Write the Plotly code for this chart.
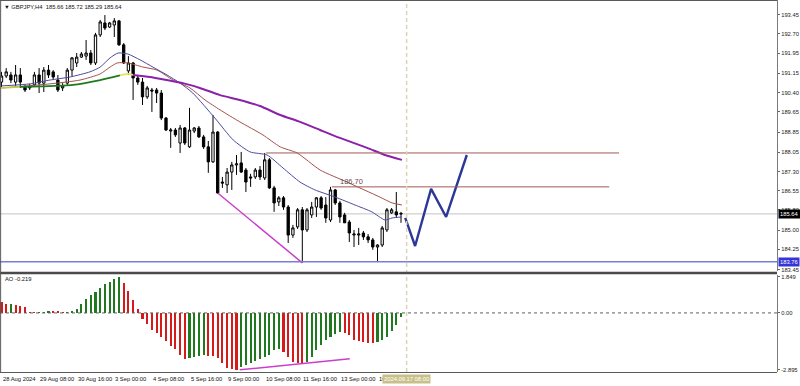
import plotly.graph_objects as go

# ---------------- data ----------------
bars = list(range(86))
opens = [190.81, 191.05, 191.09, 190.81, 191.09, 190.62, 190.58, 190.70, 191.09, 190.77,
         191.28, 191.21, 190.89, 190.58, 190.77, 191.28, 191.56, 191.79, 191.83, 191.95,
         191.56, 192.66, 193.13, 192.97, 193.05, 193.21, 192.27, 191.25, 191.56, 190.97,
         190.81, 190.23, 190.50, 190.50, 190.38, 189.40, 188.89, 188.93, 188.42, 189.01,
         188.27, 188.89, 189.01, 188.66, 188.27, 187.68, 188.85, 186.89, 186.78, 187.28,
         187.56, 187.64, 187.36, 187.09, 187.09, 187.36, 187.05, 187.76, 186.66, 186.11,
         186.27, 185.91, 184.81, 185.13, 185.80, 185.01, 185.60, 185.91, 186.27, 185.99,
         185.40, 186.58, 186.07, 185.60, 185.32, 184.81, 184.81, 184.89, 184.74, 184.62,
         184.34, 184.42, 185.01, 185.68, 185.72, 185.66]
highs = [191.21, 191.36, 191.21, 191.48, 191.36, 190.70, 190.74, 191.21, 191.36, 191.40,
         191.48, 191.28, 191.09, 190.77, 191.36, 191.79, 191.95, 191.99, 192.46, 192.07,
         192.74, 193.25, 193.44, 193.17, 193.32, 193.25, 192.34, 191.83, 191.60, 191.05,
         190.97, 190.66, 190.58, 190.58, 190.50, 189.44, 189.01, 189.01, 189.13, 189.05,
         189.80, 189.05, 189.09, 188.74, 188.50, 189.52, 188.89, 187.09, 187.44, 187.68,
         187.95, 188.07, 187.44, 187.21, 187.44, 187.52, 188.03, 187.83, 186.74, 186.34,
         186.34, 185.99, 185.21, 185.87, 185.91, 185.87, 186.11, 186.30, 186.34, 186.30,
         186.70, 186.62, 186.15, 185.68, 185.40, 185.01, 185.09, 184.97, 184.85, 184.70,
         184.45, 185.17, 185.87, 185.87, 186.50, 185.72]
lows = [190.62, 190.97, 190.77, 190.66, 190.58, 190.42, 190.50, 190.62, 190.38, 190.42,
        190.97, 190.89, 190.42, 190.46, 190.70, 191.05, 191.40, 191.76, 191.68, 191.48,
        191.48, 192.58, 192.85, 192.93, 192.58, 192.23, 191.52, 191.09, 190.11, 190.70,
        189.91, 190.15, 189.64, 189.99, 189.32, 188.89, 188.23, 188.66, 188.03, 188.34,
        188.23, 188.81, 188.62, 188.19, 187.25, 187.64, 186.42, 186.66, 186.46, 186.58,
        187.17, 187.25, 186.50, 186.70, 187.01, 186.97, 186.97, 186.62, 185.72, 185.95,
        185.80, 184.50, 184.70, 185.05, 183.72, 184.93, 185.48, 185.52, 185.80, 185.29,
        185.32, 185.99, 185.29, 185.29, 184.54, 184.34, 184.42, 184.62, 184.50, 184.23,
        183.76, 184.34, 184.93, 185.64, 185.48, 185.29]
closes = [191.05, 191.21, 190.89, 191.09, 190.81, 190.50, 190.62, 191.09, 190.77, 191.28,
          191.09, 191.01, 190.50, 190.66, 191.28, 191.76, 191.79, 191.91, 191.95, 191.56,
          192.66, 193.17, 192.93, 193.13, 193.21, 192.27, 191.56, 191.56, 190.97, 190.81,
          190.23, 190.58, 190.46, 190.38, 189.40, 188.93, 188.93, 188.74, 189.01, 188.42,
          188.93, 189.01, 188.66, 188.27, 187.68, 188.85, 186.46, 186.85, 187.28, 187.56,
          187.60, 187.28, 186.89, 187.05, 187.36, 187.09, 187.76, 186.66, 186.07, 186.27,
          185.91, 184.81, 185.09, 185.80, 185.01, 185.80, 185.91, 186.27, 185.87, 185.48,
          186.58, 186.07, 185.52, 185.29, 184.89, 184.85, 184.85, 184.74, 184.62, 184.34,
          184.42, 185.09, 185.80, 185.80, 185.60, 185.64]

ao = [0.56, 0.43, 0.46, 0.38, 0.34, 0.31, 0.06, 0.04, 0.05, 0.07,
      0.12, 0.09, 0.08, 0.05, 0.07, 0.12, 0.20, 0.43, 0.72, 0.89,
      1.06, 1.28, 1.45, 1.57, 1.74, 1.849, 1.50, 1.11, 0.65, 0.20,
      -0.31, -0.55, -0.85, -1.03, -1.20, -1.45, -1.68, -1.85, -2.14, -2.36,
      -2.31, -2.26, -2.19, -2.14, -2.17, -2.20, -2.31, -2.56, -2.82, -2.87,
      -2.895, -2.77, -2.65, -2.56, -2.43, -2.36, -2.26, -2.14, -1.88, -1.85,
      -1.97, -2.22, -2.48, -2.52, -2.53, -2.48, -2.22, -1.88, -1.62, -1.37,
      -1.20, -1.06, -0.99, -1.03, -1.11, -1.37, -1.45, -1.50, -1.53, -1.54,
      -1.50, -1.37, -1.20, -0.94, -0.60, -0.219]

ma_fast_idx = [0, 6.1, 10.3, 14.6, 18.8, 21, 23.1, 24.8, 26.9, 29.5, 32.2, 35.2, 38, 40.7,
               45.4, 49.3, 52.9, 56.5, 59.9, 63.5, 66.7, 71, 75.2, 78.8, 81.6, 83.1, 85.2]
ma_fast_val = [190.66, 190.74, 190.89, 191.01, 191.21, 191.40, 191.76, 191.95, 191.91, 191.68,
               191.40, 191.09, 190.77, 190.38, 189.40, 188.54, 188.07, 187.95, 187.44, 186.89,
               186.58, 186.30, 185.99, 185.72, 185.40, 185.48, 185.52]
ma_mid_idx = [0, 10.3, 16.7, 21, 23.1, 24.6, 26.9, 30.1, 33.1, 36.5, 40.1, 43.3, 46.5,
              50.7, 55.6, 59.3, 62.9, 67.8, 73.5, 80.5, 83.1, 85.2]
ma_mid_val = [190.58, 190.74, 190.89, 191.13, 191.40, 191.56, 191.56, 191.40, 191.28, 190.89,
              190.58, 190.11, 189.72, 189.25, 188.74, 188.27, 188.03, 187.36, 186.89, 186.30,
              186.07, 185.99]
ma_slow_idx = [0, 3.9, 8.2, 15.2, 21, 25.2, 26.9, 28, 31.6, 35.2, 38.6, 42.2, 46.5, 50.7,
               55, 59.3, 63.5, 67.8, 72, 77.8, 81.6, 85.2]
ma_slow_val = [190.58, 190.62, 190.64, 190.70, 190.89, 191.07, 191.13, 191.09, 191.01, 190.89,
               190.77, 190.58, 190.30, 190.11, 189.87, 189.52, 189.25, 188.93, 188.62, 188.23,
               187.95, 187.76]

forecast_idx = [85.9, 88, 91.4, 94.6, 99]
forecast_val = [185.48, 184.38, 186.62, 185.52, 187.95]

price_div_idx = [46, 64]
price_div_val = [186.46, 183.72]
ao_div_idx = [50.7, 74.1]
ao_div_val = [-2.89, -2.33]

level_hi = 188.03
level_hi_span = [56.3, 131.4]
level_mid = 186.70
level_mid_span = [70.3, 129.3]
level_bid = 185.64
level_low = 183.76
vline_idx = 86.2

price_ticks = [193.45, 192.70, 191.95, 191.15, 190.40, 189.65, 188.85, 188.05, 187.30,
               186.55, 185.80, 185.00, 184.25, 183.45]
ao_ticks = [1.849, 0.0, -2.895]
ao_tick_text = ["1.849", "0.00", "-2.895"]
date_idx = [0, 8, 16, 24, 32, 40, 48, 56, 64, 72, 80]
date_text = ["28 Aug 2024", "29 Aug 08:00", "30 Aug 16:00", "3 Sep 00:00", "4 Sep 08:00",
             "5 Sep 16:00", "9 Sep 00:00", "10 Sep 08:00", "11 Sep 16:00", "13 Sep 00:00",
             "16 Sep 08:00"]

# ---------------- figure ----------------
W, H = 800, 386
XR = 0.97125
FONT = "Liberation Sans"
fs = 5.8

def py(px):
    return 1 - px / H

fig = go.Figure()

fig.add_trace(go.Candlestick(
    x=bars, open=opens, high=highs, low=lows, close=closes,
    increasing=dict(line=dict(color="black", width=1), fillcolor="white"),
    decreasing=dict(line=dict(color="black", width=1), fillcolor="black"),
    whiskerwidth=0, showlegend=False, hoverinfo="skip", xaxis="x", yaxis="y"))

def line(xs, ys, color, width, yaxis="y", shape="spline"):
    fig.add_trace(go.Scatter(x=xs, y=ys, mode="lines", line=dict(color=color, width=width, shape=shape, smoothing=0.6),
                             showlegend=False, hoverinfo="skip", xaxis="x", yaxis=yaxis))

line(ma_mid_idx, ma_mid_val, "#a3524c", 1)
line(ma_fast_idx, ma_fast_val, "#4b4b9e", 1)
line(ma_slow_idx[0:2], ma_slow_val[0:2], "#c8c84a", 1.8)
line(ma_slow_idx[1:6], ma_slow_val[1:6], "#1f7a1f", 1.8)
line(ma_slow_idx[5:8], ma_slow_val[5:8], "#e4e45a", 1.8)
line(ma_slow_idx[7:], ma_slow_val[7:], "#8a22a8", 2)

line(price_div_idx, price_div_val, "#cc3fcc", 1.5, shape="linear")
line(forecast_idx, forecast_val, "#2c3796", 2.4, shape="linear")

colors = ["#d61a1a"] + ["#1f7a1f" if ao[i] > ao[i - 1] else "#d61a1a" for i in range(1, len(ao))]
fig.add_trace(go.Bar(x=bars, y=ao, marker=dict(color=colors, line=dict(width=0)), width=0.45,
                     showlegend=False, hoverinfo="skip", xaxis="x", yaxis="y2"))
line(ao_div_idx, ao_div_val, "#cc3fcc", 1.5, yaxis="y2", shape="linear")

shapes = []
# price levels
shapes.append(dict(type="line", xref="paper", x0=0, x1=XR, yref="y", y0=level_bid, y1=level_bid,
                   line=dict(color="#c4c4c4", width=1), layer="below"))
shapes.append(dict(type="line", xref="paper", x0=0, x1=XR, yref="y", y0=level_low, y1=level_low,
                   line=dict(color="#7c7cd4", width=1.5)))
shapes.append(dict(type="line", xref="x", x0=level_hi_span[0], x1=level_hi_span[1], yref="y",
                   y0=level_hi, y1=level_hi, line=dict(color="#9e5a55", width=1)))
shapes.append(dict(type="line", xref="x", x0=level_mid_span[0], x1=level_mid_span[1], yref="y",
                   y0=level_mid, y1=level_mid, line=dict(color="#9e5a55", width=1)))
# AO zero
shapes.append(dict(type="line", xref="paper", x0=0, x1=XR, yref="y2", y0=0, y1=0,
                   line=dict(color="#606060", width=1, dash="dot")))
# vertical dashed line
shapes.append(dict(type="line", xref="x", x0=vline_idx, x1=vline_idx, yref="paper", y0=py(372), y1=1,
                   line=dict(color="#dcd4b4", width=1.5, dash="4px,3px")))
# frame
shapes.append(dict(type="line", xref="paper", x0=0, x1=XR, yref="paper", y0=py(273), y1=py(273),
                   line=dict(color="#4a4a4a", width=2.5)))
shapes.append(dict(type="line", xref="paper", x0=0, x1=XR, yref="paper", y0=py(0.5), y1=py(0.5),
                   line=dict(color="#5a5a5a", width=1)))
shapes.append(dict(type="line", xref="paper", x0=0, x1=XR, yref="paper", y0=py(372.5), y1=py(372.5),
                   line=dict(color="#5a5a5a", width=1)))
shapes.append(dict(type="line", xref="paper", x0=0.0008, x1=0.0008, yref="paper", y0=py(372.5), y1=1,
                   line=dict(color="#5a5a5a", width=1)))

ann = []
ann.append(dict(xref="paper", yref="paper", x=0, y=1, xanchor="left", yanchor="top", xshift=2, yshift=-2,
                text="▼ GBPJPY,H4  185.66 185.72 185.29 185.64", showarrow=False,
                font=dict(family=FONT, size=fs, color="#111")))
ann.append(dict(xref="paper", yref="paper", x=0, y=py(279), xanchor="left", yanchor="middle", xshift=3,
                text="AO -0.219", showarrow=False, font=dict(family=FONT, size=fs, color="#111")))
ann.append(dict(xref="x", yref="y", x=71.6, y=186.93, xanchor="left", yanchor="middle",
                text="186.70", showarrow=False, font=dict(family=FONT, size=7.5, color="#6a4a4a")))
ann.append(dict(xref="paper", yref="y", x=XR, y=level_bid, xanchor="left", yanchor="middle", xshift=1,
                text="185.64", showarrow=False, bgcolor="#000000", borderpad=1,
                font=dict(family=FONT, size=fs, color="white")))
ann.append(dict(xref="paper", yref="y", x=XR, y=level_low, xanchor="left", yanchor="middle", xshift=1,
                text="183.76", showarrow=False, bgcolor="#3535d5", borderpad=1,
                font=dict(family=FONT, size=fs, color="white")))
for xi, t in zip(date_idx, date_text):
    ann.append(dict(xref="x", yref="paper", x=xi, y=py(378.5), xanchor="left", yanchor="middle",
                    xshift=-1, text=t, showarrow=False, font=dict(family=FONT, size=fs, color="#111")))
ann.append(dict(xref="x", yref="paper", x=vline_idx, y=py(378.5), xanchor="center", yanchor="middle",
                text="2024.09.17 08:00", showarrow=False, bgcolor="#c8bf8a", borderpad=1,
                font=dict(family=FONT, size=fs, color="white")))

axis_common = dict(side="right", showgrid=False, zeroline=False, ticks="outside", ticklen=2,
                   tickcolor="#666", showline=True, linecolor="#7a7a7a", linewidth=1,
                   tickfont=dict(family=FONT, size=fs, color="#222"), fixedrange=True)

fig.update_layout(
    width=W, height=H, margin=dict(l=0, r=0, t=0, b=0),
    paper_bgcolor="white", plot_bgcolor="white", showlegend=False,
    xaxis=dict(domain=[0, XR], range=[-0.32, 165], showgrid=False, zeroline=False,
               showticklabels=False, ticks="", rangeslider=dict(visible=False), anchor="y2",
               fixedrange=True),
    yaxis=dict(domain=[py(271), 1], range=[183.40, 194.03], tickvals=price_ticks,
               ticktext=[f"{v:.2f}" for v in price_ticks], anchor="x", automargin=False, **axis_common),
    yaxis2=dict(domain=[py(372), py(275)], range=[-3.0, 1.926], tickvals=ao_ticks,
                ticktext=ao_tick_text, anchor="x", automargin=False, **axis_common),
    shapes=shapes, annotations=ann, bargap=0,
)

fig.write_html("out.html", config={"displayModeBar": False, "staticPlot": True},
               post_script="document.body.style.margin='0';document.body.style.overflow='hidden';")
